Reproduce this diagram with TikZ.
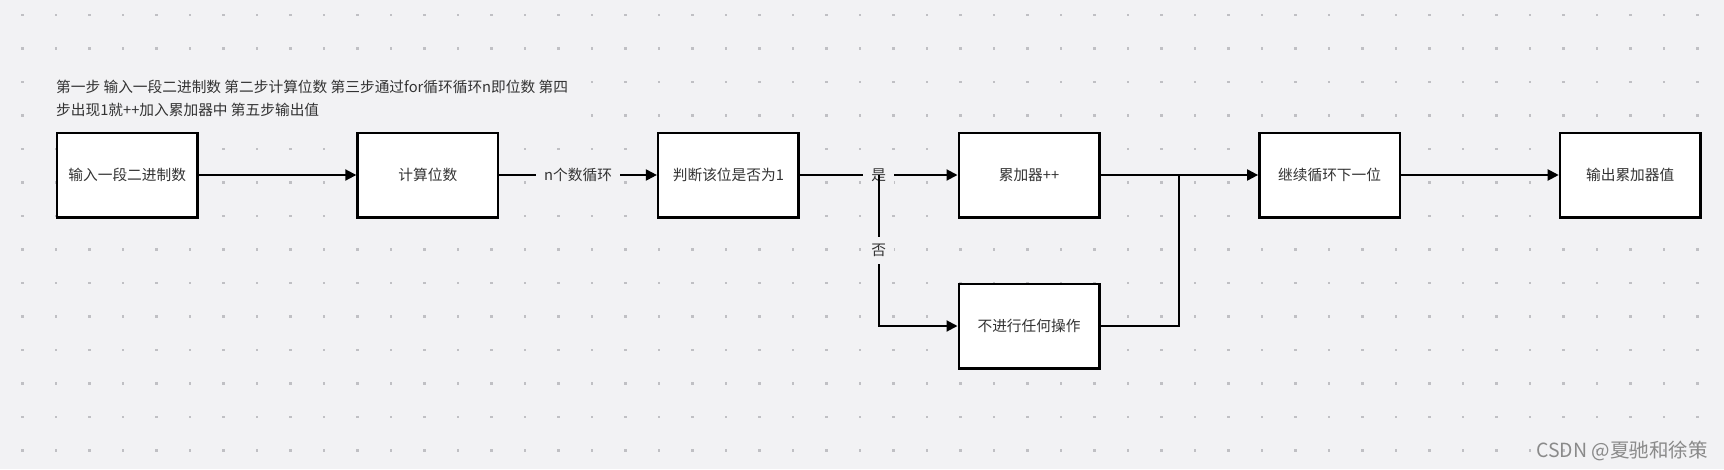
\documentclass[tikz,border=0pt]{standalone}
\usepackage{fontspec}
\setmainfont{Noto Sans CJK SC}
\usetikzlibrary{arrows.meta,calc}
\definecolor{canvas}{HTML}{F2F2F4}
\definecolor{griddot}{HTML}{C0C0C4}
\definecolor{ink}{HTML}{333333}
\definecolor{markgray}{HTML}{8A8A8A}
\begin{document}
\begin{tikzpicture}[x=1pt, y=-1pt,
  box/.style={draw=black, line width=2.5pt, fill=white, minimum width=140.5pt, minimum height=84.5pt, inner sep=0pt, text=ink, font=\fontsize{14.7}{17}\selectfont},
  link/.style={line width=2pt, -{Triangle[length=11pt, width=11pt]}},
  lbl/.style={fill=canvas, text=ink, inner xsep=8pt, inner ysep=7pt, font=\fontsize{14.7}{17}\selectfont}]
  \useasboundingbox[fill=canvas] (0,0) rectangle (1724,469);
  % dotted canvas
  \foreach \i in {0,...,50}
    \foreach \j in {0,...,13}
      \fill[griddot] ({22.3+33.5*\i-1.2}, {15+33.5*\j-1.2}) rectangle +(2.4,2.4);
  \node[anchor=west, align=left, fill=canvas, inner sep=2pt, text=ink, font=\fontsize{14.7}{23}\selectfont] (steps) at (54,98.5)
    {第一步 输入一段二进制数 第二步计算位数 第三步通过for循环循环n即位数 第四\\步出现1就++加入累加器中 第五步输出值};
  % flow boxes
  \node[box] (input) at (127.2,175) {输入一段二进制数};
  \node[box] (count) at (427.8,175) {计算位数};
  \node[box] (judge) at (728.4,175) {判断该位是否为1};
  \node[box] (acc) at (1029,175) {累加器++};
  \node[box] (skip) at (1029,326) {不进行任何操作};
  \node[box] (cont) at (1329.6,175) {继续循环下一位};
  \node[box] (out) at (1630.2,175) {输出累加器值};
  \coordinate (merge) at ($(acc.east)!0.5!(cont.west)$);
  \draw[link] (input) -- (count);
  \draw[link] (count) -- node[lbl] {n个数循环} (judge);
  \draw[link] (judge) -- node[lbl] (yes) {是} (acc);
  \draw[link] (yes.center) |- node[lbl, pos=0.25] (no) {否} (skip);
  \draw[link] (acc) -- (cont);
  \draw[line width=2pt] (skip.east) -| (merge);
  \draw[link] (cont) -- (out);
  \node[anchor=east, text=markgray, inner sep=0pt, font=\fontsize{19.5}{21}\selectfont] (mark) at (1708,451) {CSDN @夏驰和徐策};
\end{tikzpicture}
\end{document}
